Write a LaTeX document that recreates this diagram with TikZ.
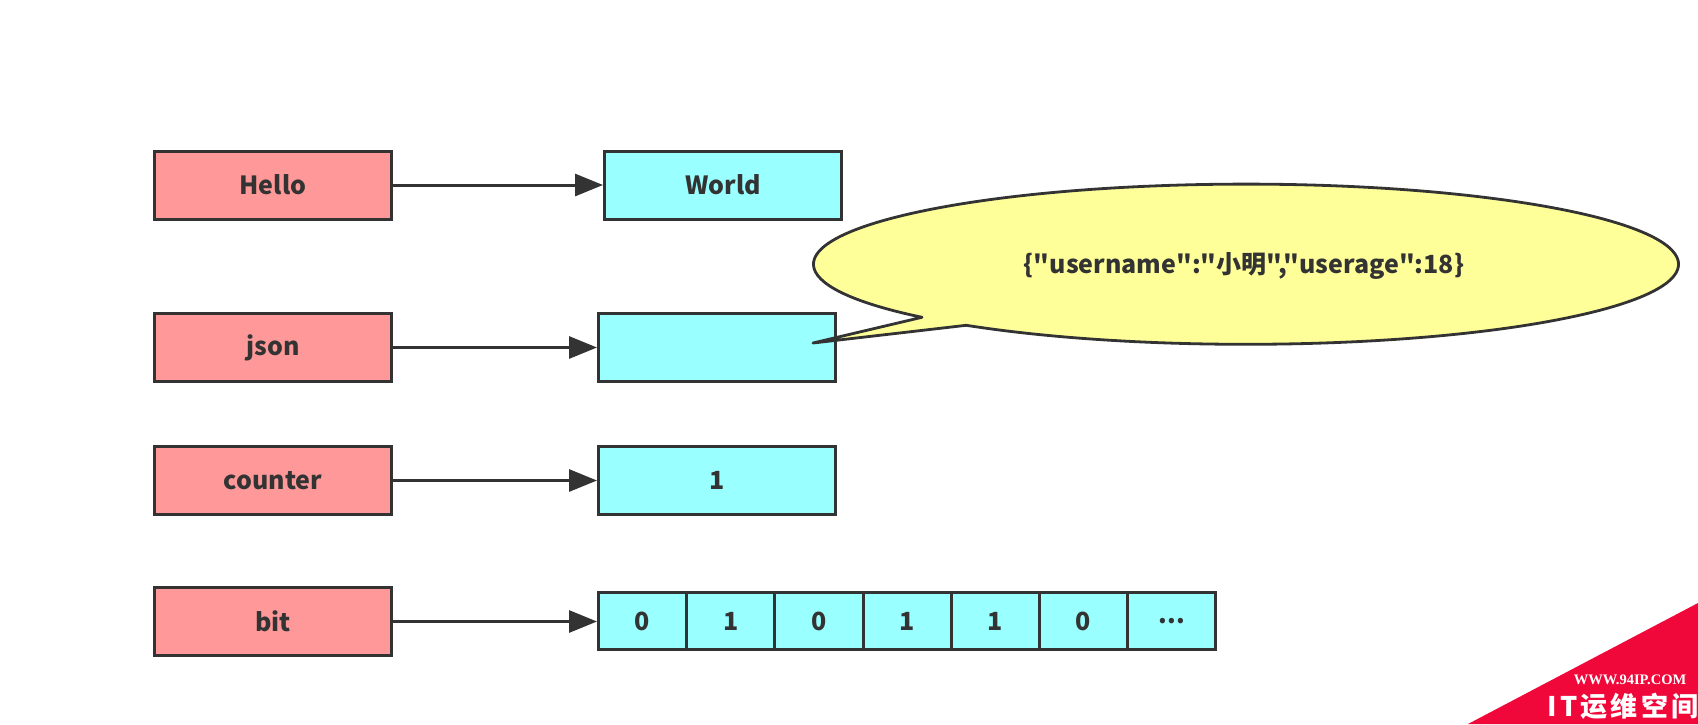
\documentclass[tikz,border=0pt]{standalone}
\usepackage{fontspec}
\setmainfont{Noto Sans CJK SC}
\newfontfamily\jsonfont{Noto Sans CJK SC}[Ligatures=TeXOff]
\newfontfamily\wmcjk{Noto Sans CJK SC}[LetterSpace=12]
\newfontfamily\wmserif{Liberation Serif}
\usetikzlibrary{arrows.meta,calc}
\definecolor{keyred}{HTML}{FF9999}
\definecolor{valcyan}{HTML}{99FFFF}
\definecolor{noteyellow}{HTML}{FFFF99}
\definecolor{ink}{HTML}{333333}
\definecolor{wmred}{HTML}{F0083A}
\begin{document}
\begin{tikzpicture}[x=1pt,y=1pt,
  every node/.style={font=\bfseries\fontsize{25}{30}\selectfont, text=ink},
  keybox/.style={draw=ink, line width=3pt, fill=keyred, minimum width=237pt, minimum height=68pt, inner sep=0pt, anchor=north west},
  valbox/.style={draw=ink, line width=3pt, fill=valcyan, minimum width=237pt, minimum height=68pt, inner sep=0pt, anchor=north west},
  cellbox/.style={draw=ink, line width=3pt, fill=valcyan, minimum width=88.2pt, minimum height=56.3pt, inner sep=0pt, anchor=north west},
  arr/.style={draw=ink, line width=3pt, -{Triangle[length=28pt,width=22pt]}},
  callout/.style={draw=ink, line width=2.8pt, fill=noteyellow, line join=round}
]
\useasboundingbox (0,0) rectangle (1698,-724);
\fill[white] (0,0) rectangle (1698,-724);

\node[keybox] (hello) at (153,-149.5) {Hello};
\node[valbox] (world) at (603,-149.5) {World};
\node[keybox] (json) at (153,-312) {json};
\node[valbox] (jsonval) at (597,-312) {};
\node[keybox] (counter) at (153,-445) {counter};
\node[valbox] (counterval) at (597,-445) {1};
\node[keybox] (bit) at (153,-586) {bit};

\node[cellbox] (c1) at (597,-591.3) {0};
\node[cellbox] (c2) at (685.2,-591.3) {1};
\node[cellbox] (c3) at (773.4,-591.3) {0};
\node[cellbox] (c4) at (861.6,-591.3) {1};
\node[cellbox] (c5) at (949.8,-591.3) {1};
\node[cellbox] (c6) at (1038,-591.3) {0};
\node[cellbox] (c7) at (1126.2,-591.3) {...};

\draw[arr] (hello.east) -- (world.west);
\draw[arr] (json.east) -- (jsonval.west);
\draw[arr] (counter.east) -- (counterval.west);
\draw[arr] (bit.east) -- (bit.east -| c1.west);

\coordinate (calloutc) at (1246,-264.2);
\coordinate (tip) at (813,-343);
\draw[callout] ($(calloutc)+(229.7:432.6 and 80.1)$) arc[start angle=229.7, end angle=581.5, x radius=432.6, y radius=80.1] -- (tip) -- cycle;
\node[font=\jsonfont\bfseries\fontsize{25}{30}\selectfont] (jsontext) at (1244,-266) {\{"username":"小明","userage":18\}};

\fill[wmred] (1468,-724) -- (1698,-603) -- (1698,-724) -- cycle;
\node[font=\wmserif\bfseries\fontsize{14.5}{16}\selectfont, text=white] (wmurl) at (1630,-680) {WWW.94IP.COM};
\node[font=\wmcjk\bfseries\fontsize{27}{30}\selectfont, text=white] (wmname) at (1623,-706) {IT运维空间};
\end{tikzpicture}
\end{document}
